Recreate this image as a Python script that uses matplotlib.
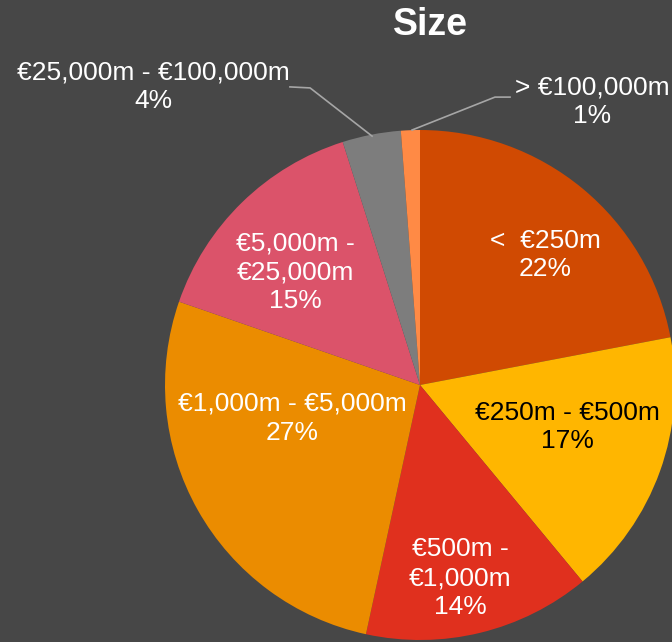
import matplotlib
matplotlib.use("Agg")
import matplotlib.pyplot as plt

categories = ["<  €250m", "€250m - €500m", "€500m -\n€1,000m", "€1,000m - €5,000m",
              "€5,000m -\n€25,000m", "€25,000m - €100,000m", "> €100,000m"]
shares = [22.0, 17.0, 14.4, 26.9, 14.8, 3.7, 1.2]
colors = ["#D04A02", "#FFB600", "#E0301E", "#EB8C00", "#DB536A", "#7D7D7D", "#FF8A45"]
text_colors = ["white", "black", "white", "white", "white", "white", "white"]
# label anchor positions (in pie-radius units)
label_pos = [(0.49, 0.51), (0.58, -0.165), (0.157, -0.757), (-0.502, -0.13),
             (-0.49, 0.443), (-1.047, 1.169), (0.675, 1.11)]

bg = "#474747"
W, H = 672, 642
cx, cy, R = 420, 385, 255

fig = plt.figure(figsize=(W / 100, H / 100), dpi=100, facecolor=bg)
ax = fig.add_axes([0, 0, 1, 1])
ax.set_facecolor(bg)
ax.pie(shares, colors=colors, startangle=90, counterclock=False, radius=1,
       wedgeprops=dict(linewidth=0))
ax.set_xlim(-cx / R, (W - cx) / R)
ax.set_ylim(-(H - cy) / R, cy / R)
ax.set_aspect("auto")
ax.axis("off")

font = "Liberation Sans"
for cat, s, (x, y), tc in zip(categories, shares, label_pos, text_colors):
    ax.text(x, y, f"{cat}\n{round(s):d}%", ha="center", va="center", color=tc,
            fontsize=19, family=font, linespacing=1.25)

# leader lines
ax.plot([-0.51, -0.431, -0.188], [1.169, 1.165, 0.976], color="#A6A6A6", lw=1.2)
ax.plot([-0.031, 0.294, 0.353], [1.0, 1.129, 1.129], color="#A6A6A6", lw=1.2)

ax.text(0.04, 1.41, "Size", ha="center", va="center", color="white",
        fontsize=27, fontweight="bold", family=font)

fig.savefig("out.png", dpi=100, facecolor=bg)
